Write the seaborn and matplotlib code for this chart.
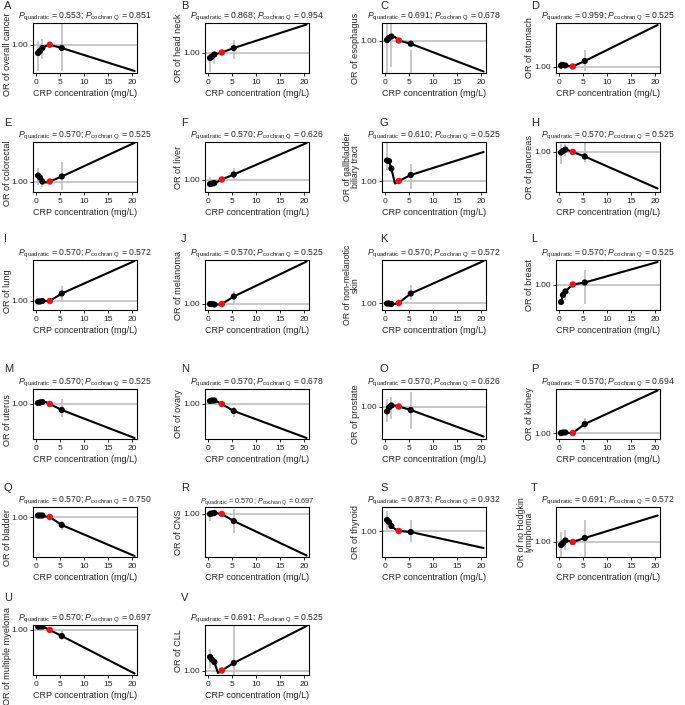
import matplotlib
matplotlib.use("Agg")
import matplotlib.pyplot as plt
import seaborn as sns
import pandas as pd

# CRP strata (mg/L) used for the fitted line; red point = reference stratum
crp_x = [0.35, 0.75, 1.25, 2.0, 2.8, 5.3, 20.5]
black_idx = [0, 1, 2, 5]
ref_idx = 4
ci_x = [0.35, 1.25, 5.3]

letters = list("ABCDEFGHIJKLMNOPQRSTUV")
outcomes = ["overall cancer", "head neck", "esophagus", "stomach",
            "colorectal", "liver", "gallbladder\nbiliary tract", "pancreas",
            "lung", "melanoma", "non-melanotic\nskin", "breast",
            "uterus", "ovary", "prostate", "kidney",
            "bladder", "CNS", "thyroid", "no Hodgkin\nlymphoma",
            "multiple myeloma", "CLL"]
p_quadratic = ["0.553", "0.868", "0.691", "0.959", "0.570", "0.570", "0.610", "0.570",
               "0.570", "0.570", "0.570", "0.570", "0.570", "0.570", "0.570", "0.570",
               "0.570", "0.570", "0.873", "0.691", "0.570", "0.691"]
p_cochran = ["0.851", "0.954", "0.678", "0.525", "0.525", "0.626", "0.525", "0.525",
             "0.572", "0.525", "0.572", "0.525", "0.525", "0.678", "0.626", "0.694",
             "0.750", "0.697", "0.932", "0.572", "0.697", "0.525"]

odds = [
    [0.967, 0.975, 0.987, 0.995, 1.0, 0.987, 0.895],
    [0.978, 0.984, 0.992, 0.996, 1.0, 1.018, 1.112],
    [1.002, 1.010, 1.016, 1.014, 1.0, 0.987, 0.876],
    [1.004, 1.006, 1.004, 1.002, 1.0, 1.022, 1.166],
    [1.024, 1.016, 1.000, 0.996, 1.0, 1.020, 1.155],
    [0.982, 0.984, 0.986, 0.992, 1.0, 1.020, 1.146],
    [1.082, 1.080, 1.050, 0.990, 1.0, 1.024, 1.116],
    [0.998, 1.004, 1.010, 1.006, 1.0, 0.982, 0.854],
    [0.998, 0.998, 1.000, 1.000, 1.0, 1.030, 1.160],
    [1.000, 1.000, 0.998, 0.998, 1.0, 1.030, 1.170],
    [0.998, 0.998, 0.996, 0.996, 1.0, 1.038, 1.168],
    [0.930, 0.958, 0.972, 0.986, 1.0, 1.008, 1.090],
    [1.004, 1.006, 1.008, 1.008, 1.0, 0.976, 0.864],
    [1.012, 1.014, 1.014, 1.008, 1.0, 0.972, 0.864],
    [0.980, 0.996, 1.004, 1.004, 1.0, 0.986, 0.880],
    [1.000, 1.002, 1.002, 1.000, 1.0, 1.036, 1.170],
    [1.006, 1.006, 1.006, 1.002, 1.0, 0.968, 0.844],
    [1.000, 1.002, 1.004, 1.002, 1.0, 0.972, 0.834],
    [1.044, 1.036, 1.020, 1.008, 1.0, 0.996, 0.932],
    [0.988, 0.996, 1.006, 1.004, 1.0, 1.016, 1.106],
    [1.014, 1.014, 1.014, 1.008, 1.0, 0.976, 0.826],
    [1.054, 1.044, 1.034, 0.990, 1.0, 1.030, 1.178],
]
ci_lo = [
    [0.895, 0.941, 0.895], [0.924, 0.954, 0.976], [0.85, 0.894, 0.85], [0.99, 0.998, 0.982],
    [0.988, 0.978, 0.968], [0.97, 0.97, 1.0], [1.042, 1.04, 0.966], [0.95, 0.984, 0.96],
    [0.994, 0.996, 1.0], [0.996, 0.994, 1.0], [0.994, 0.992, 1.012], [0.925, 0.938, 0.922],
    [1.0, 1.002, 0.95], [1.006, 1.008, 0.95], [0.94, 0.95, 0.91], [0.996, 0.998, 1.016],
    [1.0, 1.0, 0.95], [0.972, 0.998, 0.924], [1.006, 1.01, 0.956], [0.93, 0.97, 0.9],
    [1.0, 1.006, 0.96], [1.012, 1.028, 0.95],
]
ci_hi = [
    [1.013, 1.023, 1.09], [0.994, 0.994, 1.05], [1.10, 1.10, 0.962], [1.024, 1.012, 1.066],
    [1.054, 1.02, 1.08], [1.01, 1.0, 1.046], [1.2, 1.06, 1.066], [1.03, 1.03, 1.05],
    [1.004, 1.004, 1.06], [1.004, 1.002, 1.052], [1.002, 1.0, 1.072], [0.935, 0.988, 1.058],
    [1.008, 1.012, 1.02], [1.018, 1.02, 0.99], [1.03, 1.04, 1.06], [1.004, 1.006, 1.06],
    [1.012, 1.012, 0.984], [1.016, 1.01, 1.02], [1.08, 1.03, 1.046], [1.04, 1.05, 1.09],
    [1.022, 1.022, 1.0], [1.088, 1.04, 1.2],
]
y_low = [0.887, 0.918, 0.870, 0.974, 0.958, 0.950, 0.956, 0.840,
         0.964, 0.976, 0.972, 0.898, 0.860, 0.860, 0.870, 0.976,
         0.840, 0.828, 0.896, 0.940, 0.820, 0.982]

sns.set_style("ticks")
plt.rcParams["font.family"] = ["Liberation Sans", "DejaVu Sans"]
plt.rcParams["mathtext.fontset"] = "custom"
plt.rcParams["mathtext.rm"] = "Liberation Sans"
plt.rcParams["mathtext.it"] = "Liberation Sans:italic"

W, H = 685, 705
fig = plt.figure(figsize=(W / 100, H / 100), dpi=100)
lefts = [33, 205, 382, 556]
tops = [23, 142, 260, 389, 507, 625]
letter_y = [6, 123, 239, 369, 488, 598]
letter_x = [4, 181, 380, 531]
aw, ah = 104, 50
grey = "#c4c4c4"

for i, let in enumerate(letters):
    row, col = divmod(i, 4)
    l, t = lefts[col], tops[row]
    ax = fig.add_axes([l / W, 1 - (t + ah) / H, aw / W, ah / H])
    lo = y_low[i]
    ax.set_ylim(lo, lo + 0.2)
    ax.set_xlim(-0.7, 21.0)

    ax.axhline(1.0, color=grey, lw=1.3, zorder=1)
    ax.vlines(ci_x, ci_lo[i], ci_hi[i], color=grey, lw=1.3, zorder=1)

    df = pd.DataFrame({"crp": crp_x, "odds": odds[i]})
    sns.lineplot(data=df, x="crp", y="odds", ax=ax, color="black", lw=1.5,
                 sort=False, zorder=2)
    pts = df.iloc[black_idx]
    sns.scatterplot(data=pts, x="crp", y="odds", ax=ax, color="black", s=20,
                    edgecolor="none", zorder=3)
    ref = df.iloc[[ref_idx]]
    sns.scatterplot(data=ref, x="crp", y="odds", ax=ax, color="#e8141c", s=22,
                    edgecolor="none", zorder=4)

    ax.set_xticks([0, 5, 10, 15, 20])
    ax.set_yticks([1.0])
    ax.set_yticklabels(["1.00"])
    ax.tick_params(labelsize=6, length=2.5, width=0.7, pad=1.8)
    ax.tick_params(axis="y", pad=1.2)
    for s in ax.spines.values():
        s.set_linewidth(0.8)
        s.set_color("black")
    ax.set_xlabel("CRP concentration (mg/L)", fontsize=6.5, labelpad=2)
    two_line = "\n" in outcomes[i]
    ax.set_ylabel("OR of " + outcomes[i], fontsize=6.3 if two_line else 6.6,
                  labelpad=0.5, linespacing=0.8)
    if col == 0:
        ax.yaxis.set_label_coords(-0.205, 0.38)
    tsize = 5.3 if let == "R" else 6.2
    ax.set_title(r"$P_{\mathrm{quadratic}}$ = " + p_quadratic[i] + r"; $P_{\mathrm{cochran\ Q}}$ = "
                 + p_cochran[i], fontsize=tsize, pad=3)
    fig.text(letter_x[col] / W, 1 - letter_y[row] / H, let, fontsize=8,
             ha="left", va="center")

plt.savefig("out.png", dpi=100)
